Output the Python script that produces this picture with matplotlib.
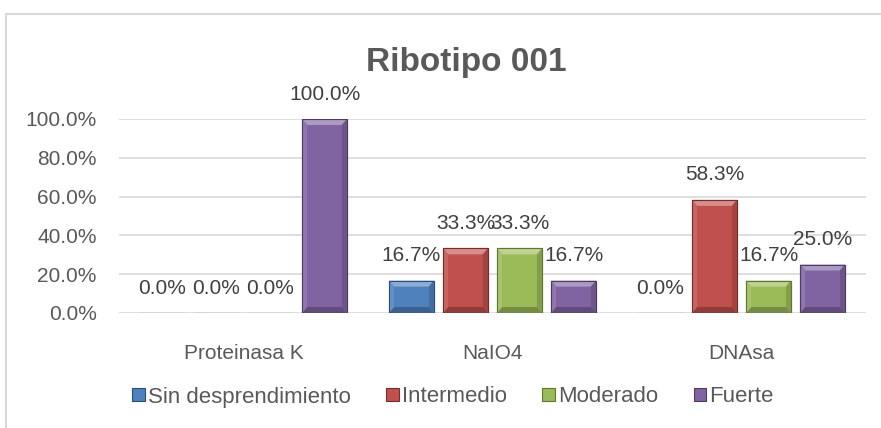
import matplotlib.pyplot as plt
from matplotlib.lines import Line2D
from matplotlib.patches import Polygon
import matplotlib.colors as mcolors
import numpy as np

# datos
categorias = ["Proteinasa K", "NaIO4", "DNAsa"]
series = ["Sin desprendimiento", "Intermedio", "Moderado", "Fuerte"]
sin_desp = [0.0, 0.167, 0.0]
intermedio = [0.0, 0.333, 0.583]
moderado = [0.0, 0.333, 0.167]
fuerte = [1.0, 0.167, 0.25]
yticks = [0.0, 0.2, 0.4, 0.6, 0.8, 1.0]

valores = [sin_desp, intermedio, moderado, fuerte]
colores = ["#4F81BD", "#C0504D", "#9BBB59", "#8064A2"]
bordes = ["#2C4D75", "#772C2A", "#5F7530", "#4D3B62"]
gris = "#595959"
fuente = "Liberation Sans"


def mezcla(c, otro, f):
    a = np.array(mcolors.to_rgb(c))
    b = np.array(mcolors.to_rgb(otro))
    return tuple(a * (1 - f) + b * f)


W, H = 881, 428
fig = plt.figure(figsize=(W / 100, H / 100), dpi=100)
ax = fig.add_axes([119 / W, 1 - 313 / H, (866 - 119) / W, (313 - 119) / H])
ax.set_xlim(-0.5, 2.5)
ax.set_ylim(0, 1.0)

# tamano del bisel en unidades de datos (5 px)
bx = 5 * 3.0 / (866 - 119)
by = 6 * 1.0 / (313 - 119)

x = np.arange(len(categorias))
paso = 0.217
ancho = 0.18
for i, (vals, c, b, nombre) in enumerate(zip(valores, colores, bordes, series)):
    pos = x + (i - 1.5) * paso
    barras = ax.bar(pos, vals, width=ancho, color=c, edgecolor=b, linewidth=0.8,
                    label=nombre, zorder=3)
    for r in barras:
        x0, w, h = r.get_x(), r.get_width(), r.get_height()
        if h <= 0:
            continue
        e = min(by, h / 2)
        caras = [
            ([(x0, h), (x0 + w, h), (x0 + w - bx, h - e), (x0 + bx, h - e)], mezcla(c, "white", 0.35)),
            ([(x0, 0), (x0 + w, 0), (x0 + w - bx, e), (x0 + bx, e)], mezcla(c, "black", 0.25)),
            ([(x0, 0), (x0, h), (x0 + bx, h - e), (x0 + bx, e)], mezcla(c, "white", 0.12)),
            ([(x0 + w, 0), (x0 + w, h), (x0 + w - bx, h - e), (x0 + w - bx, e)], mezcla(c, "black", 0.15)),
        ]
        for pts, col in caras:
            ax.add_patch(Polygon(pts, closed=True, facecolor=col, edgecolor="none", zorder=3.5))
        ax.add_patch(plt.Rectangle((x0, 0), w, h, fill=False, edgecolor=b, linewidth=0.8, zorder=3.6))
    for xx, v in zip(pos, vals):
        ax.annotate(f"{v * 100:.1f}%", (xx, v), xytext=(0, 14), textcoords="offset points",
                    ha="center", va="baseline", fontsize=15, color="#404040",
                    family=fuente, zorder=4)

ax.set_yticks(yticks)
ax.set_yticklabels([f"{t * 100:.1f}%" for t in yticks], fontsize=15, color=gris, family=fuente)
ax.set_xticks(x)
ax.set_xticklabels(categorias, fontsize=15, color=gris, family=fuente)
ax.tick_params(axis="y", length=0, pad=16)
ax.tick_params(axis="x", length=0, pad=22)
ax.grid(axis="y", color="#D9D9D9", linewidth=1.2, zorder=0)
ax.set_axisbelow(True)
for s in ax.spines.values():
    s.set_visible(False)

fig.text(466 / W, 1 - 62 / H, "Ribotipo 001", ha="center", va="center",
         fontsize=24, fontweight="bold", color=gris, family=fuente)

handles = [plt.Rectangle((0, 0), 1, 1, facecolor=c, edgecolor=b, linewidth=0.8)
           for c, b in zip(colores, bordes)]
leg = fig.legend(handles, series, loc="center", bbox_to_anchor=(453 / W, 1 - 397 / H),
                 ncol=4, frameon=False, handlelength=0.55, handleheight=0.55,
                 handletextpad=0.15, columnspacing=1.6,
                 prop={"family": fuente, "size": 16})
for t in leg.get_texts():
    t.set_color(gris)

# marco del grafico
fig.add_artist(Line2D([6 / W, 6 / W], [0, 1 - 14 / H], color="#D9D9D9", linewidth=1.5))
fig.add_artist(Line2D([6 / W, 1], [1 - 14 / H, 1 - 14 / H], color="#D9D9D9", linewidth=1.5))

fig.savefig("out.png", dpi=100)
